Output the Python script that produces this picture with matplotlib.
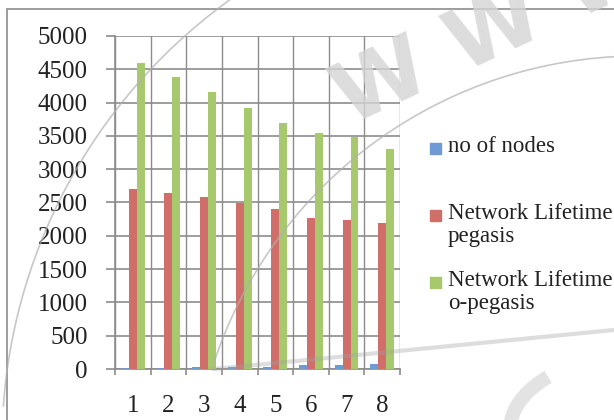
import numpy as np
import matplotlib

matplotlib.use("Agg")
import matplotlib.pyplot as plt
from matplotlib.patches import Rectangle, Arc

# data
categories = ["1", "2", "3", "4", "5", "6", "7", "8"]
nodes = [10, 15, 25, 30, 35, 60, 65, 70]
life_pegasis = [2700, 2640, 2580, 2490, 2400, 2270, 2240, 2190]
life_opegasis = [4600, 4380, 4160, 3920, 3700, 3540, 3490, 3300]
series_names = ["no of nodes", "Network Lifetime\npegasis", "Network Lifetime\no-pegasis"]
colors = ["#6F9BD5", "#D06F6A", "#A8C86E"]

plt.rcParams["font.family"] = ["Liberation Serif", "DejaVu Serif"]

W, H = 614, 420
fig = plt.figure(figsize=(W / 100, H / 100), dpi=100)
ax = fig.add_axes([115 / W, 1 - 369 / H, 285 / W, 333 / H])
px = fig.dpi_scale_trans  # 1 unit = 100 px


def P(v):
    return v / 100


# chart area border (runs off the right and bottom edges)
fig.patches.append(Rectangle((P(7), P(-20)), P(700), P(H - 9 + 20), transform=px,
                             fill=False, ec="#8c8c8c", lw=1.2, zorder=0))

x = np.arange(len(categories))
bw = 1 / 4.5
for i, (vals, c) in enumerate(zip([nodes, life_pegasis, life_opegasis], colors)):
    ax.bar(x + (i - 1) * bw, vals, width=bw, color=c, zorder=3)

ax.set_xlim(-0.5, len(categories) - 0.5)
ax.set_ylim(0, 5000)
ax.set_yticks(np.arange(0, 5001, 500))
ax.set_xticks(x)
ax.set_xticklabels(categories)
ax.set_xticks(np.arange(-0.5, len(categories)), minor=True)
ax.tick_params(axis="x", which="major", length=0, pad=19, labelsize=18, labelcolor="#222222")
ax.tick_params(axis="x", which="minor", length=4.5, color="#8c8c8c", width=1.2)
ax.tick_params(axis="y", length=6.5, color="#8c8c8c", width=1.2, labelsize=18, pad=13,
               labelcolor="#222222")
ax.grid(True, axis="y", color="#8c8c8c", lw=1.2, zorder=0)
ax.grid(True, axis="x", which="minor", color="#8c8c8c", lw=1.0, zorder=0)
for s in ["top", "right"]:
    ax.spines[s].set_visible(False)
for s in ["left", "bottom"]:
    ax.spines[s].set_color("#8c8c8c")
    ax.spines[s].set_linewidth(1.2)

# legend, laid out like the Excel one
legend_y = [148, 215, 282]
for name, c, yy in zip(series_names, colors, legend_y):
    fig.patches.append(Rectangle((P(430), P(H - yy - 5.5)), P(11), P(11), transform=px,
                                 color=c, zorder=4))
    fig.text(P(448), P(H - yy + 12), name, transform=px, fontsize=16.5, color="#222222",
             ha="left", va="top", linespacing=1.15)

# faint watermark
fig.text(P(495), P(H - 32), "W W W", transform=px, fontsize=62, color="#d4d4d4", alpha=0.8,
         rotation=25, ha="center", va="center", fontfamily="DejaVu Sans", fontweight="bold",
         zorder=1)
for (cx, cy, r, t1, t2) in [(551, -25, 549, 125, 176), (639, -84, 448, 93, 162)]:
    fig.patches.append(Arc((P(cx), P(cy)), P(2 * r), P(2 * r), theta1=t1, theta2=t2,
                           transform=px, color="#b0b0b0", lw=1.2, alpha=0.7, zorder=5))
fig.lines.append(plt.Line2D([P(214), P(614)], [P(H - 369), P(H - 330)], transform=px,
                            color="#a0a0a0", lw=3, alpha=0.35, zorder=5))
fig.patches.append(Arc((P(640), P(-10)), P(260), P(150), theta1=150, theta2=200,
                       transform=px, color="#dcdcdc", lw=10, alpha=0.8, zorder=1))

fig.savefig("out.png", dpi=100)
